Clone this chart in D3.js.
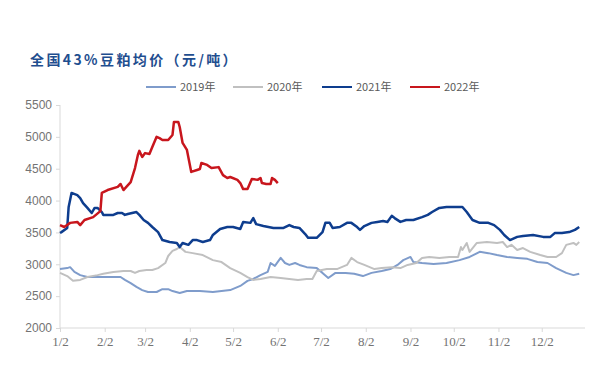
<!DOCTYPE html>
<html lang="zh">
<head>
    <meta charset="UTF-8">
    <title>全国43%豆粕均价</title>
    <script src="https://d3js.org/d3.v7.min.js"></script>
    <style>
        body {
            margin: 0;
            background: #fff;
        }
        .title {
            font-family: "Noto Sans CJK SC", sans-serif;
            font-weight: bold;
            font-size: 14px;
            letter-spacing: 2.4px;
            fill: #1f4e8f;
        }
        .legend-text {
            font-family: "Noto Sans CJK SC", sans-serif;
            font-size: 11px;
            fill: #595959;
        }
        .y-label {
            font-family: "Liberation Sans", Arial, sans-serif;
            font-size: 12px;
            fill: #737373;
        }
        .x-label {
            font-family: "Liberation Serif", "Times New Roman", serif;
            font-size: 13px;
            fill: #737373;
        }
    </style>
</head>
<body>
<div id="chart"></div>
<script>
    // 日期为距1月2日的天数，数值为元/吨
    const years = ["2019年", "2020年", "2021年", "2022年"];
    const colors = ["#7f9ccb", "#c0c0c0", "#0e3d8e", "#c8161d"];
    const widths = [2, 2, 2.5, 2.5];

    const yTicks = [2000, 2500, 3000, 3500, 4000, 4500, 5000, 5500];
    const xTickDays = [0, 31, 59, 90, 120, 151, 181, 212, 243, 273, 304, 334];
    const xTickLabels = ["1/2", "2/2", "3/2", "4/2", "5/2", "6/2", "7/2", "8/2", "9/2", "10/2", "11/2", "12/2"];

    const s2019 = [[0,2925],[5,2940],[7,2955],[10,2880],[14,2830],[19,2800],[26,2800],[37,2800],[42,2800],[45,2755],[49,2705],[53,2645],[57,2595],[61,2565],[67,2565],[71,2610],[75,2610],[78,2580],[83,2550],[88,2580],[97,2580],[106,2565],[118,2595],[125,2660],[130,2740],[134,2770],[139,2830],[144,2880],[146,3020],[149,2975],[153,3100],[156,3020],[159,2990],[163,3020],[166,2990],[171,2955],[178,2940],[182,2865],[186,2785],[191,2865],[198,2865],[204,2850],[210,2815],[216,2865],[223,2895],[229,2925],[234,2990],[238,3065],[243,3115],[245,3035],[251,3020],[259,3005],[268,3020],[277,3065],[284,3115],[291,3195],[297,3175],[303,3145],[310,3115],[317,3100],[324,3085],[331,3035],[338,3020],[344,2940],[351,2865],[356,2830],[360,2850]];

    const s2020 = [[0,2865],[5,2815],[9,2740],[14,2755],[19,2800],[26,2830],[30,2850],[37,2880],[44,2895],[49,2895],[52,2865],[55,2895],[60,2910],[64,2910],[68,2940],[73,3020],[75,3130],[78,3210],[81,3240],[83,3270],[87,3195],[92,3175],[99,3145],[106,3065],[112,3035],[118,2940],[125,2865],[130,2800],[134,2755],[139,2770],[146,2800],[153,2785],[159,2770],[165,2755],[171,2770],[175,2770],[178,2895],[185,2925],[192,2925],[199,2990],[202,3100],[206,3035],[211,2990],[218,2925],[223,2940],[230,2955],[236,2940],[241,2990],[247,3020],[251,3100],[256,3115],[263,3100],[270,3115],[276,3115],[278,3270],[279,3225],[282,3335],[284,3195],[289,3335],[296,3350],[303,3335],[307,3350],[310,3270],[313,3305],[317,3225],[321,3255],[326,3195],[333,3145],[338,3115],[344,3115],[348,3175],[351,3305],[356,3335],[358,3305],[360,3350]];

    const s2021 = [[0,3490],[1,3505],[5,3570],[6,3900],[8,4120],[12,4085],[14,4040],[16,3960],[19,3885],[22,3805],[24,3885],[26,3885],[29,3820],[30,3775],[37,3775],[40,3805],[43,3805],[45,3775],[47,3790],[50,3805],[53,3820],[55,3775],[58,3695],[61,3650],[64,3585],[68,3505],[71,3380],[76,3350],[81,3335],[83,3270],[85,3335],[89,3305],[92,3380],[95,3380],[99,3350],[104,3380],[106,3460],[111,3555],[116,3585],[120,3585],[125,3555],[127,3665],[132,3650],[134,3725],[136,3630],[141,3600],[148,3570],[155,3570],[159,3615],[162,3585],[166,3570],[170,3475],[172,3415],[178,3415],[182,3505],[184,3650],[187,3650],[189,3570],[194,3585],[199,3650],[202,3650],[206,3585],[208,3540],[211,3600],[216,3650],[220,3665],[224,3680],[227,3665],[230,3760],[232,3725],[236,3665],[240,3695],[245,3695],[251,3740],[255,3775],[258,3820],[263,3885],[268,3900],[279,3900],[282,3820],[286,3695],[291,3650],[297,3650],[301,3615],[305,3540],[308,3460],[312,3380],[317,3430],[321,3445],[328,3460],[335,3430],[340,3430],[343,3490],[348,3490],[353,3505],[357,3540],[360,3585]];

    const s2022 = [[0,3615],[3,3585],[7,3650],[12,3665],[14,3615],[17,3695],[23,3740],[28,3835],[29,4120],[33,4165],[40,4215],[42,4260],[44,4165],[46,4215],[49,4290],[52,4510],[54,4715],[55,4780],[57,4685],[59,4745],[62,4730],[64,4840],[67,5000],[69,4980],[71,4950],[75,4950],[78,5030],[79,5235],[82,5235],[83,5155],[85,4905],[88,4795],[91,4450],[95,4480],[97,4495],[98,4590],[102,4560],[105,4510],[110,4525],[113,4400],[116,4355],[118,4370],[123,4325],[125,4275],[127,4180],[130,4180],[133,4340],[137,4325],[139,4355],[140,4275],[143,4260],[146,4260],[147,4355],[149,4325],[151,4275]];

    const seriesList = [s2019, s2020, s2021, s2022];

    const width = 600, height = 377;
    const plotLeft = 60, plotRight = 585, plotTop = 105, plotBottom = 328;

    const svg = d3.select("#chart").append("svg")
        .attr("width", width)
        .attr("height", height);

    const x = d3.scaleLinear().domain([0, 364]).range([plotLeft, plotRight]);
    const y = d3.scaleLinear().domain([2000, 5500]).range([plotBottom, plotTop]);

    // 标题
    svg.append("text")
        .attr("class", "title")
        .attr("x", 30)
        .attr("y", 65)
        .text("全国43%豆粕均价（元/吨）");

    // 图例
    const legendX = [146, 233, 322, 410];
    const legend = svg.append("g");
    years.forEach((name, i) => {
        legend.append("line")
            .attr("x1", legendX[i]).attr("x2", legendX[i] + 30)
            .attr("y1", 87).attr("y2", 87)
            .attr("stroke", colors[i])
            .attr("stroke-width", 2);
        legend.append("text")
            .attr("class", "legend-text")
            .attr("x", legendX[i] + 34)
            .attr("y", 91)
            .text(name);
    });

    // 坐标轴
    const yAxis = d3.axisLeft(y).tickValues(yTicks).tickSize(4).tickPadding(4).tickFormat(d3.format("d"));
    const gy = svg.append("g").attr("transform", `translate(${plotLeft},0)`).call(yAxis);
    gy.selectAll("text").attr("class", "y-label");

    const xAxis = d3.axisBottom(x).tickValues(xTickDays).tickSize(4).tickPadding(5)
        .tickFormat((d, i) => xTickLabels[i]);
    const gx = svg.append("g").attr("transform", `translate(0,${plotBottom})`).call(xAxis);
    gx.selectAll("text").attr("class", "x-label");

    svg.selectAll(".domain, .tick line").attr("stroke", "#d9d9d9");
    gx.select(".domain").attr("d", `M${plotLeft},0H${plotRight}`);
    gy.select(".domain").attr("d", `M0,${plotTop}V${plotBottom}`);

    // 折线
    const line = d3.line()
        .x(d => x(d[0]))
        .y(d => y(d[1]));

    seriesList.forEach((data, i) => {
        svg.append("path")
            .datum(data)
            .attr("fill", "none")
            .attr("stroke", colors[i])
            .attr("stroke-width", widths[i])
            .attr("stroke-linejoin", "round")
            .attr("d", line);
    });
</script>
</body>
</html>
